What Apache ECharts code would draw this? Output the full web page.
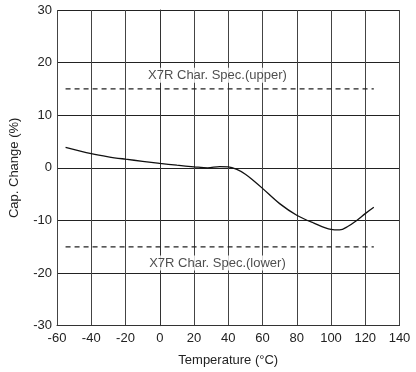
<!DOCTYPE html>
<html><head><meta charset="utf-8">
<script src="https://cdn.jsdelivr.net/npm/echarts@6/dist/echarts.min.js"></script>
<style>html,body{margin:0;padding:0;background:#fff}#c{width:416px;height:372px}</style>
</head><body><div id="c"></div>
<script>
var temps = [-55,-40,-30,-20,-10,0,10,20,28,35,40,45,50,55,60,70,80,90,100,105,110,115,120,125];
var capChange = [3.9,2.7,2.1,1.65,1.25,0.85,0.5,0.2,0.0,0.25,0.2,-0.3,-1.2,-2.5,-3.9,-6.8,-9.0,-10.5,-11.7,-11.8,-11.1,-10.0,-8.7,-7.5];
var specX = [-55,125];
var specUpper = 15;
var specLower = -15;
var specLabels = ['X7R Char. Spec.(upper)','X7R Char. Spec.(lower)'];
var specLabelPos = [[33.7,17.6],[33.7,-18.1]];
var xTitle = 'Temperature (°C)';
var yTitle = 'Cap. Change (%)';

var font = 'Liberation Sans, Arial, Helvetica, sans-serif';
var chart = echarts.init(document.getElementById('c'));
chart.setOption({
  animation:false,
  grid:{left:55.5,right:16.5,top:10,bottom:46.3,containLabel:false},
  xAxis:{type:'value',min:-60,max:140,interval:20,
    name:xTitle,nameLocation:'middle',nameGap:28,
    nameTextStyle:{color:'#222',fontSize:13,fontFamily:font},
    axisLine:{onZero:false,lineStyle:{color:'#333',width:1}},
    axisTick:{show:false},
    axisLabel:{color:'#222',fontSize:13,fontFamily:font,margin:6},
    splitLine:{show:true,lineStyle:{color:'#444',width:1}}},
  yAxis:{type:'value',min:-30,max:30,interval:10,
    name:yTitle,nameLocation:'middle',nameGap:36,
    nameTextStyle:{color:'#222',fontSize:13,fontFamily:font},
    axisLine:{show:true,lineStyle:{color:'#333',width:1}},
    axisTick:{show:false},
    axisLabel:{color:'#222',fontSize:13,fontFamily:font,margin:5},
    splitLine:{show:true,lineStyle:{color:'#222',width:1}}},
  series:[
    {type:'line',data:temps.map(function(t,i){return [t,capChange[i]];}),
     smooth:0.35,symbol:'none',lineStyle:{color:'#111',width:1.3}},
    {type:'line',data:specX.map(function(t){return [t,specUpper];}),
     symbol:'none',lineStyle:{color:'#222',width:1.2,type:[5,4]}},
    {type:'line',data:specX.map(function(t){return [t,specLower];}),
     symbol:'none',lineStyle:{color:'#222',width:1.2,type:[5,4]}},
    {type:'scatter',symbolSize:0,
     data:specLabelPos.map(function(p,i){return {value:p,label:{show:true,position:'inside',formatter:specLabels[i],color:'#222',fontSize:13,fontFamily:font,backgroundColor:'#fff',padding:[1,1]}};})}
  ]
});
</script></body></html>
